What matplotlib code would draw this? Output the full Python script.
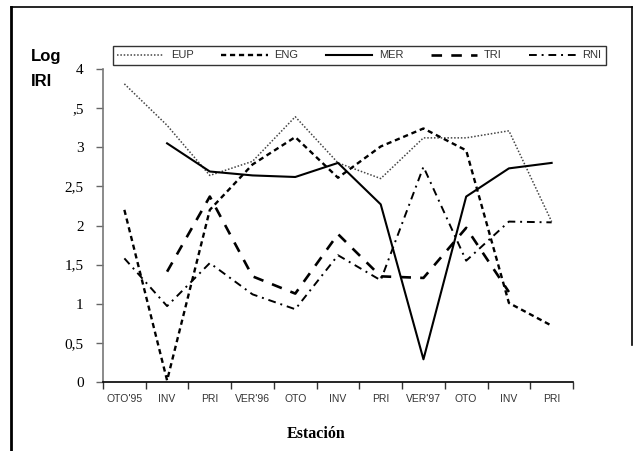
import numpy as np
import matplotlib
matplotlib.use('Agg')
from matplotlib import pyplot as plt
from matplotlib.lines import Line2D

# Seasons on the x axis
estaciones = ["OTO'95", 'INV', 'PRI', "VER'96", 'OTO', 'INV', 'PRI', "VER'97", 'OTO', 'INV', 'PRI']
nan = np.nan

# Log IRI per station
eup = [3.81, 3.28, 2.64, 2.82, 3.39, 2.80, 2.60, 3.12, 3.12, 3.21, 2.05]
eng = [2.20, 0.02, 2.20, 2.78, 3.13, 2.61, 3.01, 3.24, 2.96, 1.01, 0.72]
mer = [nan, 3.05, 2.69, 2.64, 2.62, 2.80, 2.27, 0.29, 2.37, 2.73, 2.80]
tri = [nan, 1.41, 2.37, 1.35, 1.13, 1.89, 1.35, 1.33, 1.97, 1.15, nan]
rni = [1.58, 0.97, 1.52, 1.12, 0.93, 1.62, 1.30, 2.75, 1.55, 2.05, 2.04]

y_ticks = [0, 0.5, 1, 1.5, 2, 2.5, 3, 3.5, 4]
y_ticklabels = ['0', '0,5', '1', '1,5', '2', '2,5', '3', ',5', '4']

W, H = 641, 451
fig = plt.figure(figsize=(W / 100, H / 100), dpi=100)
ax = fig.add_axes([103 / W, 1 - 382 / H, 470 / W, 313 / H])

x = np.arange(len(estaciones))
ax.plot(x, eup, color='#444444', lw=1.1, linestyle=(0, (1, 1.2)), label='EUP')
ax.plot(x, eng, color='black', lw=1.7, linestyle=(0, (2.2, 1.6)), label='ENG')
ax.plot(x, mer, color='black', lw=1.5, linestyle='-', label='MER')
ax.plot(x, tri, color='black', lw=1.9, linestyle=(0, (4, 3.5)), label='TRI')
ax.plot(x, rni, color='black', lw=1.4, linestyle=(0, (4, 2.5, 1, 2.5)), label='RNI')

ax.set_xlim(-0.5, len(estaciones) - 0.5)
ax.set_ylim(0, 4)

# ticks between categories, labels centred on categories
ax.set_xticks(np.arange(-0.5, len(estaciones), 1))
ax.set_xticklabels([])
ax.set_xticks(x, minor=True)
ax.set_xticklabels(estaciones, minor=True, fontsize=7.5, color='#333333',
                   family='Liberation Sans')
ax.tick_params(axis='x', which='major', direction='out', length=5, width=1, color='#333333')
ax.tick_params(axis='x', which='minor', length=0, pad=9)

ax.set_yticks(y_ticks)
ax.set_yticklabels(y_ticklabels, fontsize=11, family='Liberation Serif')
ax.tick_params(axis='y', direction='out', length=5, width=1, color='#666666', pad=9)

for s in ['top', 'right']:
    ax.spines[s].set_visible(False)
ax.spines['left'].set_color('#777777')
ax.spines['bottom'].set_color('black')
ax.spines['left'].set_linewidth(1.2)
ax.spines['bottom'].set_linewidth(1.2)

# axis titles
fig.text(316 / W, 1 - 434 / H, 'Estación', ha='center', va='center',
         fontsize=11.5, fontweight='bold', family='Liberation Serif')
fig.text(31 / W, 1 - 56 / H, 'Log', ha='left', va='center',
         fontsize=12, fontweight='bold', family='Liberation Sans')
fig.text(31 / W, 1 - 81 / H, 'IRI', ha='left', va='center',
         fontsize=12, fontweight='bold', family='Liberation Sans')

leg = fig.legend(loc='center', ncol=5, mode='expand',
                 bbox_to_anchor=(113 / W, 1 - 69 / H, 493 / W, 27 / H),
                 frameon=True, fancybox=False, handlelength=4.2, handletextpad=0.6,
                 prop={'family': 'Liberation Sans', 'size': 8}, labelcolor='#333333',
                 borderaxespad=0, borderpad=0.4, columnspacing=1.2)
leg.get_frame().set_edgecolor('black')
leg.get_frame().set_linewidth(1.0)

# outer frame of the original figure
fig.add_artist(Line2D([11 / W, 11 / W], [0, 1 - 7 / H], color='black', lw=2))
fig.add_artist(Line2D([11 / W, 632 / W], [1 - 7 / H, 1 - 7 / H], color='black', lw=1.2))
fig.add_artist(Line2D([632 / W, 632 / W], [1 - 7 / H, 1 - 345 / H], color='black', lw=1.2))

fig.savefig('out.png', dpi=100)
